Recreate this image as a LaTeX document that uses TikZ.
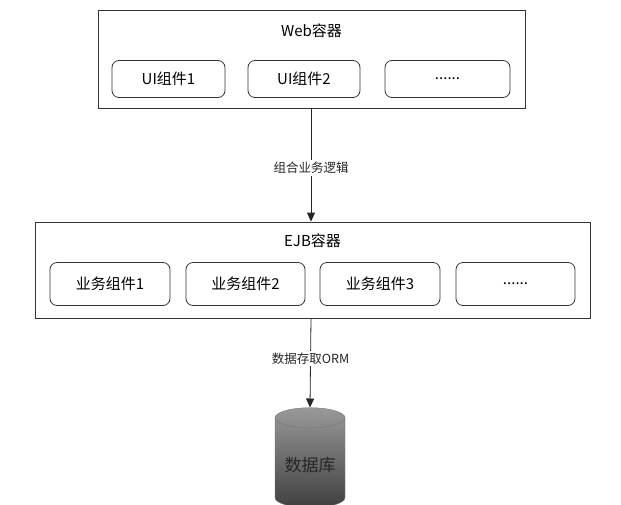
\documentclass[tikz,border=0pt]{standalone}
\usepackage{fontspec}
\setmainfont{Noto Sans CJK SC}
\usetikzlibrary{shapes.geometric,arrows.meta}
\begin{document}
\begin{tikzpicture}[x=1pt,y=-1pt,
 comp/.style={draw=black!80,line width=0.8pt,rounded corners=7pt,minimum height=37pt,font=\fontsize{15}{17}\selectfont},
 lbl/.style={fill=white,font=\fontsize{12.5}{14}\selectfont,inner sep=2pt},
 arr/.style={-{Triangle[length=9pt,width=8pt]},line width=0.8pt,black!85}]
\useasboundingbox (0,0) rectangle (621,504);
\node[draw=black!80,line width=0.8pt,minimum width=427pt,minimum height=98pt] (web) at (311.5,59) {};
\node[font=\fontsize{15}{17}\selectfont] (webt) at (311.5,31) {Web容器};
\node[comp,minimum width=113pt] (ui1) at (168.5,79) {UI组件1};
\node[comp,minimum width=112pt] (ui2) at (304,79) {UI组件2};
\node[comp,minimum width=125pt] (ui3) at (447.5,79) {......};
\node[draw=black!80,line width=0.8pt,minimum width=555pt,minimum height=96pt] (ejb) at (312.5,270) {};
\node[font=\fontsize{15}{17}\selectfont] (ejbt) at (312.5,241) {EJB容器};
\node[comp,minimum width=120pt,minimum height=43pt] (b1) at (110,284) {业务组件1};
\node[comp,minimum width=119pt,minimum height=43pt] (b2) at (245.5,284) {业务组件2};
\node[comp,minimum width=120pt,minimum height=43pt] (b3) at (380,284) {业务组件3};
\node[comp,minimum width=119pt,minimum height=43pt] (b4) at (515.5,284) {......};
\node[cylinder,shape border rotate=90,aspect=0.35,minimum width=70pt,minimum height=100pt,
  draw=black!55,top color=black!40,bottom color=black!75,font=\fontsize{17}{19}\selectfont,text=black!85] (db) at (310,465) {数据库};
\draw[arr] (web.south -| 311,0) -- (ejb.north -| 311,0) node[lbl,midway,yshift=-3pt] {组合业务逻辑};
\draw[arr] (ejb.south -| 311,0) -- (db.top) node[lbl,pos=0.45] {数据存取ORM};
\end{tikzpicture}
\end{document}
